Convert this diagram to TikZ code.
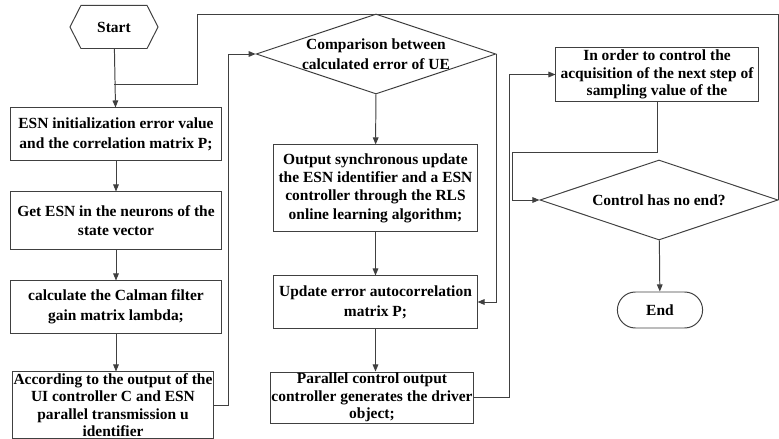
\documentclass[tikz,border=0pt]{standalone}
\usepackage{fontspec}
\setmainfont{Liberation Serif}
\usetikzlibrary{arrows.meta}
\usetikzlibrary{shapes.geometric, shapes.symbols, shapes.misc}

\begin{document}
\begin{tikzpicture}[x=0.025cm, y=-0.025cm,
  every node/.style={font=\fontsize{11}{14}\selectfont\bfseries, align=center, inner sep=1pt},
  tight/.style={font=\fontsize{11}{12.3}\selectfont\bfseries, inner sep=0pt},
  box/.style={draw=black!75, line width=0.7pt, rectangle, minimum width=5.25cm},
  decision/.style={draw=black!75, line width=0.7pt, diamond, aspect=3, inner sep=0pt},
  line/.style={draw=black!75, line width=0.7pt},
  flow/.style={line, -{Triangle[length=5pt, width=4pt]}}]
\useasboundingbox (0,0) rectangle (779,439);

\node[draw=black!75, line width=0.7pt, signal, signal to=west and east, signal pointer angle=126,
  minimum width=2.2cm, minimum height=1.075cm] (start) at (114,27) {Start};
\node[box, minimum height=1.3cm] (init) at (116,134)
  {ESN initialization error value\\and the correlation matrix P;};
\node[box, minimum height=1.425cm] (getesn) at (116,220.5)
  {Get ESN in the neurons of the\\state vector};
\node[box, minimum height=1.3cm] (calman) at (116,307)
  {calculate the Calman filter\\gain matrix lambda;};
\node[box, tight, minimum width=5.025cm, minimum height=1.65cm] (according) at (113,405)
  {According to the output of the\\UI controller C and ESN\\parallel transmission u\\identifier};

\node[decision, minimum width=5.85cm, minimum height=2cm] (compare) at (376,54)
  {Comparison between\\calculated error of UE};
\node[box, font=\fontsize{11}{13}\selectfont\bfseries, minimum width=5.075cm,
  minimum height=2.15cm] (output) at (375.5,188)
  {Output synchronous update\\the ESN identifier and a ESN\\controller through the RLS\\online learning algorithm;};
\node[box, minimum width=5.075cm, minimum height=1.3cm] (update) at (375.5,302)
  {Update error autocorrelation\\matrix P;};
\node[box, tight, minimum width=5.05cm, minimum height=1.275cm] (parallel) at (372,397.5)
  {Parallel control output\\controller generates the driver\\object;};

\node[box, tight, minimum width=5.05cm, minimum height=1.325cm] (order) at (657,74.5)
  {In order to control the\\acquisition of the next step of\\sampling value of the};
\node[decision, minimum width=5.95cm, minimum height=2cm] (noend) at (659,200)
  {Control has no end?};
\node[draw=black!75, line width=0.7pt, rounded rectangle, minimum width=2.2cm,
  minimum height=0.9cm] (end) at (660,310) {End};

\coordinate (join) at (114,84);
\coordinate (loop) at (197,14);
\coordinate (back) at (512,152);

\draw[flow] (start) -- (init);
\draw[flow] (init) -- (getesn);
\draw[flow] (getesn) -- (calman);
\draw[flow] (calman) -- (according.north -| calman.south);
\draw[flow] (according.east) -- ++(14,0) |- (compare.west);
\draw[flow] (compare) -- (output);
\draw[flow] (output) -- (update);
\draw[flow] (update) -- (parallel.north -| update.south);
\draw[flow] (compare.east) |- (update.east);
\draw[flow] (parallel.east) -- ++(36,0) |- (order.west);
\draw[flow] (order.south) |- (back) |- (noend.west);
\draw[flow] (noend) -- (end);
\draw[line] (noend.east) |- (loop) |- (join);
\end{tikzpicture}
\end{document}
